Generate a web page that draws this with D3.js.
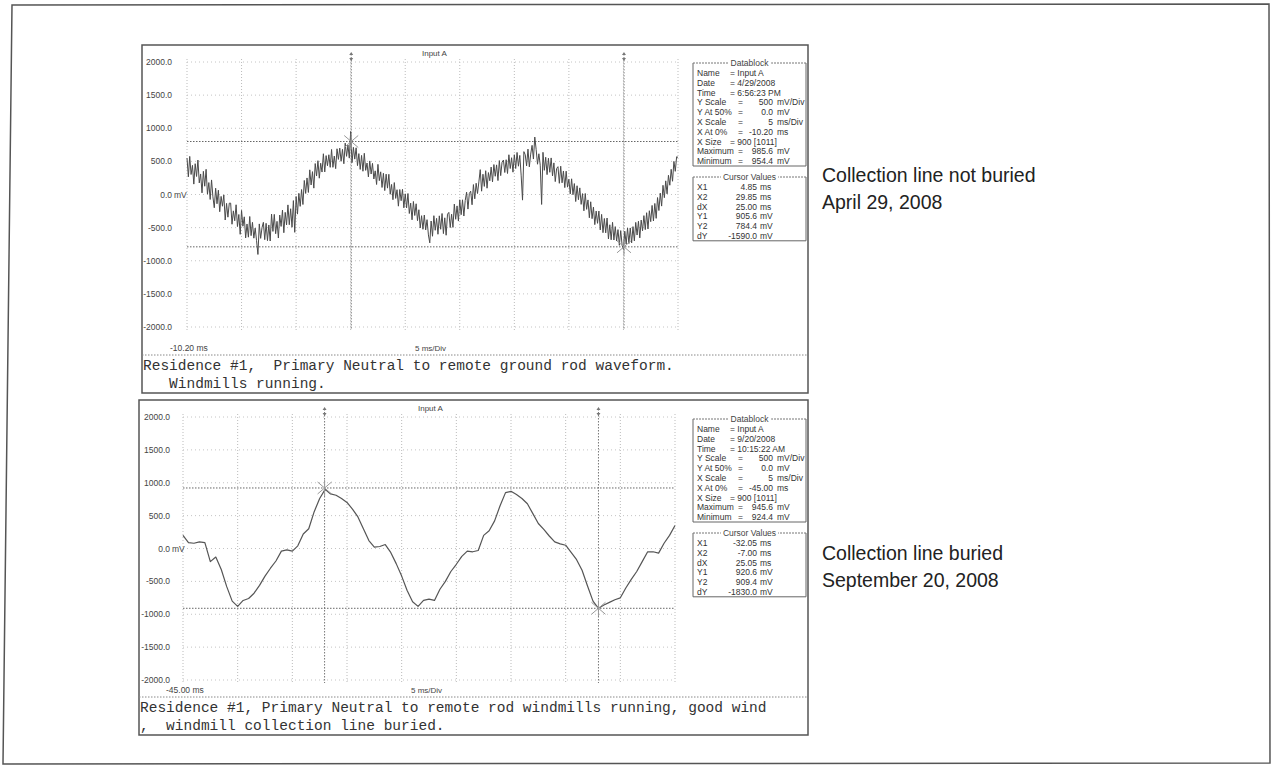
<!DOCTYPE html>
<html>
<head>
<meta charset="utf-8">
<script src="https://cdn.jsdelivr.net/npm/d3@7"></script>
<style>
  body { margin: 0; background: #fff; }
  svg { display: block; font-family: "Liberation Sans", Arial, sans-serif; }
  .mono { font-family: "Liberation Mono", "Courier New", monospace; }
</style>
</head>
<body>
<svg id="chart" width="1274" height="780"></svg>
<script>
const yTicks = [2000, 1500, 1000, 500, 0, -500, -1000, -1500, -2000];
const yTickLabels = ["2000.0", "1500.0", "1000.0", "500.0", "0.0", "-500.0", "-1000.0", "-1500.0", "-2000.0"];

// top capture: 4/29/2008, one value every 0.125 ms from -10.20 ms (mV)
const topStart = -10.2;
const topStep = 0.125;
const topValues = [
  550, 267, 575, 302, 440, 157, 465, 272,
  520, 175, 310, 25, 350, 125, 380, 5,
  180, -75, 220, -35, -200, 95, -140, 65,
  -260, -29, -177, -6, -385, -134, -342, -131,
  -130, -449, -247, -396, -155, -484, -302, -601,
  -240, -479, -337, -656, -445, -644, -332, -621,
  -420, -659, -507, -696, -905, -444, -662, -501,
  -420, -682, -435, -697, -460, -702, -295, -557,
  -300, -592, -405, -657, -310, -482, -235, -577,
  -270, -459, -157, -456, -215, -494, -92, -571,
  -30, -296, 18, -179, 75, -151, 212, 16,
  250, 31, 372, 144, 345, 96, 467, 279,
  510, 246, 472, 339, 615, 341, 587, 434,
  600, 410, 680, 410, 580, 390, 690, 530,
  700, 501, 682, 464, 775, 576, 747, 549,
  950, 481, 712, 534, 705, 436, 617, 379,
  590, 351, 622, 364, 475, 266, 507, 309,
  470, 234, 357, 151, 455, 209, 342, 106,
  320, 59, 307, 96, 305, 4, 152, -79,
  180, -59, 72, -176, 75, -94, 78, -201,
  10, -202, 15, -287, -130, -382, -105, -317,
  -140, -395, -230, -505, -320, -525, -310, -535,
  -380, -610, -730, -400, -630, -320, -540, -360,
  -600, -322, -525, -287, -590, -352, -615, -297,
  -270, -499, -297, -496, -145, -374, -172, -401,
  -80, -305, -80, -325, -90, 35, -220, 15,
  50, -155, 150, -65, 170, 15, 190, 375,
  50, 306, 122, 359, 95, 331, 207, 414,
  190, 452, 275, 447, 210, 512, 285, 487,
  520, 332, 525, 317, 600, 392, 555, 337,
  600, 392, 635, 427, 590, 292, -85, 647,
  600, 432, 685, 417, 610, 742, 535, 867,
  680, 457, 615, 442, -150, 637, 365, 562,
  300, 547, 335, 552, 280, 477, 195, 392,
  420, 169, 427, 176, 355, 104, 352, 111,
  230, 9, 237, -4, 165, -106, 132, -79,
  100, -149, 13, -246, 15, -224, -82, -351,
  -110, -365, -190, -455, -250, -435, -250, -535,
  -300, -576, -362, -579, -355, -671, -457, -684,
  -420, -687, -485, -702, -530, -767, -545, -762,
  -830, -555, -750, -505, -740, -505, -730, -485,
  -700, -421, -612, -404, -655, -386, -547, -319,
  -530, -275, -520, -245, -410, -165, -400, -135,
  -360, -46, -242, 21, -175, 139, -48, 206,
  10, 290, 140, 380, 200, 500, 350, 570,
  560
];
const topCursorX = [4.85, 29.85];
const topCursorY = [800, -790];

// bottom capture: 9/20/2008, one value every 0.5 ms from -45.00 ms (mV)
const botStart = -45;
const botStep = 0.5;
const botValues = [
  200, 90, 80, 100, 90, -200, -130, -320, -580, -800,
  -880, -790, -760, -680, -560, -420, -300, -190, -40, -20,
  -40, 40, 220, 300, 560, 760, 900, 830, 810, 760,
  700, 600, 480, 300, 120, 20, 30, 60, -60, -230,
  -420, -640, -810, -880, -790, -770, -790, -620, -500, -350,
  -240, -120, -40, -50, -30, 200, 270, 420, 650, 850,
  870, 820, 760, 680, 530, 380, 290, 190, 100, 70,
  50, -60, -170, -330, -570, -800, -910, -860, -820, -780,
  -750, -600, -470, -350, -200, -50, -50, -70, 80, 200,
  350
];
const botCursorX = [-32.05, -7.00];
const botCursorY = [920.6, -909.4];

const topDatablock = [
  ["Name", "= Input A", ""], ["Date", "= 4/29/2008", ""], ["Time", "= 6:56:23 PM", ""],
  ["Y Scale", "500", "mV/Div"], ["Y At 50%", "0.0", "mV"], ["X Scale", "5", "ms/Div"],
  ["X At 0%", "-10.20", "ms"], ["X Size", "= 900 [1011]", ""], ["Maximum", "985.6", "mV"],
  ["Minimum", "954.4", "mV"]
];
const topCursorRows = [
  ["X1", "4.85", "ms"], ["X2", "29.85", "ms"], ["dX", "25.00", "ms"],
  ["Y1", "905.6", "mV"], ["Y2", "784.4", "mV"], ["dY", "-1590.0", "mV"]
];
const botDatablock = [
  ["Name", "= Input A", ""], ["Date", "= 9/20/2008", ""], ["Time", "= 10:15:22 AM", ""],
  ["Y Scale", "500", "mV/Div"], ["Y At 50%", "0.0", "mV"], ["X Scale", "5", "ms/Div"],
  ["X At 0%", "-45.00", "ms"], ["X Size", "= 900 [1011]", ""], ["Maximum", "945.6", "mV"],
  ["Minimum", "924.4", "mV"]
];
const botCursorRows = [
  ["X1", "-32.05", "ms"], ["X2", "-7.00", "ms"], ["dX", "25.05", "ms"],
  ["Y1", "920.6", "mV"], ["Y2", "909.4", "mV"], ["dY", "-1830.0", "mV"]
];

const topCaption = ["Residence #1,  Primary Neutral to remote ground rod waveform.", "   Windmills running."];
const botCaption = ["Residence #1, Primary Neutral to remote rod windmills running, good wind", ",  windmill collection line buried."];
const sideNotes = [["Collection line not buried", "April 29, 2008"], ["Collection line buried", "September 20, 2008"]];

// ---- drawing ----
const svg = d3.select("#chart");

// scanned page frame
svg.append("path")
  .attr("d", "M12,5 L1269,4 L1270,763 L3,764 Z")
  .attr("fill", "none").attr("stroke", "#555").attr("stroke-width", 1.5);

function drawDatablock(g, x0, x1, top, rows, cursorRows) {
  const rowH = 9.8;
  const bottom = top + 5 + rows.length * rowH;
  const cTop = bottom + 11;
  const cBottom = cTop + 5 + cursorRows.length * rowH;
  [[top, bottom, "Datablock"], [cTop, cBottom, "Cursor Values"]].forEach(([t, b, title]) => {
    g.append("path")
      .attr("d", `M${x0},${t} L${x0},${b} L${x1},${b} L${x1},${t}`)
      .attr("fill", "none").attr("stroke", "#666").attr("stroke-width", 1);
    g.append("line")
      .attr("x1", x0).attr("x2", x1).attr("y1", t).attr("y2", t)
      .attr("stroke", "#777").attr("stroke-dasharray", "2,1");
    const label = g.append("text")
      .attr("x", (x0 + x1) / 2).attr("y", t + 3)
      .attr("text-anchor", "middle").attr("font-size", 8.5).attr("fill", "#444")
      .text(title);
    const bb = label.node().getBBox();
    g.insert("rect", "text:last-of-type")
      .attr("x", bb.x - 2).attr("y", bb.y).attr("width", bb.width + 4).attr("height", bb.height)
      .attr("fill", "#fff");
  });
  const txt = (xx, yy, s, anchor) => g.append("text")
    .attr("x", xx).attr("y", yy).attr("text-anchor", anchor || "start")
    .attr("font-size", 8.5).attr("fill", "#333").text(s);
  rows.forEach((r, i) => {
    const yy = top + 10 + i * rowH + 3;
    txt(x0 + 4, yy, r[0]);
    if (r[1].startsWith("=")) {
      txt(x0 + 37, yy, r[1]);
    } else {
      txt(x0 + 45, yy, "=");
      txt(x0 + 80, yy, r[1], "end");
      txt(x0 + 84, yy, r[2]);
    }
  });
  cursorRows.forEach((r, i) => {
    const yy = cTop + 10 + i * rowH + 3;
    txt(x0 + 4, yy, r[0]);
    txt(x0 + 64, yy, r[1], "end");
    txt(x0 + 67, yy, r[2]);
  });
}

function drawPanel(p) {
  const g = svg.append("g");
  const x = d3.scaleLinear().domain(p.xDomain).range([p.plot.l, p.plot.r]);
  const y = d3.scaleLinear().domain([-2000, 2000]).range([p.plot.b, p.plot.t]);

  g.append("rect")
    .attr("x", p.box[0]).attr("y", p.box[1])
    .attr("width", p.box[2] - p.box[0]).attr("height", p.box[3] - p.box[1])
    .attr("fill", "#fff").attr("stroke", "#555").attr("stroke-width", 1.5);

  // grid: 9 time divisions, 8 voltage divisions
  const xDivs = d3.range(p.xDomain[0], p.xDomain[1] + 0.01, 5);
  g.selectAll(".vgrid").data(xDivs).join("line")
    .attr("x1", d => x(d)).attr("x2", d => x(d))
    .attr("y1", y(2000) - 3).attr("y2", y(-2000) + 3)
    .attr("stroke", "#bbb").attr("stroke-dasharray", "1,2");
  g.selectAll(".hgrid").data(yTicks).join("line")
    .attr("x1", p.plot.l).attr("x2", p.plot.r)
    .attr("y1", d => y(d)).attr("y2", d => y(d))
    .attr("stroke", "#c4c4c4").attr("stroke-dasharray", "1,3");

  // y labels
  g.selectAll(".ylab").data(yTicks).join("text")
    .attr("x", p.plot.l - p.labelGap).attr("y", d => y(d) + 3)
    .attr("text-anchor", "end").attr("font-size", 8.5).attr("fill", "#444")
    .text((d, i) => yTickLabels[i]);
  g.append("text").attr("x", p.plot.l - p.labelGap + 2).attr("y", y(0) + 3)
    .attr("font-size", 8.5).attr("fill", "#444").text("mV");

  g.append("text").attr("x", p.plot.l + 235).attr("y", p.plot.t - 6)
    .attr("font-size", 8).attr("fill", "#444").text("Input A");
  g.append("text").attr("x", p.plot.l - 17).attr("y", p.plot.b + p.xLabelGap)
    .attr("font-size", 8.5).attr("fill", "#444").text(p.startLabel);
  g.append("text").attr("x", p.plot.l + 228).attr("y", p.plot.b + p.xLabelGap)
    .attr("font-size", 8).attr("fill", "#444").text("5 ms/Div");

  // cursors
  g.selectAll(".cx").data(p.cursorX).join("line")
    .attr("x1", d => x(d)).attr("x2", d => x(d))
    .attr("y1", y(2000) - 8).attr("y2", y(-2000) + 3)
    .attr("stroke", "#777").attr("stroke-dasharray", "1.5,1.5");
  g.selectAll(".cxm").data(p.cursorX).join("path")
    .attr("d", d => `M${x(d)},${y(2000) - 10} l-2,3 l4,0 z M${x(d)},${y(2000) - 1} l-2,-3 l4,0 z`)
    .attr("fill", "#777");
  g.selectAll(".cy").data(p.cursorY).join("line")
    .attr("x1", p.plot.l).attr("x2", p.plot.r)
    .attr("y1", d => y(d)).attr("y2", d => y(d))
    .attr("stroke", "#666").attr("stroke-dasharray", "1.5,1.5");

  // waveform
  const line = d3.line()
    .x((d, i) => x(p.start + i * p.step))
    .y(d => y(d));
  g.append("path").datum(p.values)
    .attr("d", line)
    .attr("fill", "none").attr("stroke", p.traceColor).attr("stroke-width", p.traceWidth)
    .attr("stroke-linejoin", "round");

  // cursor stars
  p.cursorX.forEach((cx, i) => {
    const px = x(cx), py = y(p.cursorY[i]);
    g.append("path")
      .attr("d", `M${px - 7},${py - 6} L${px + 7},${py + 6} M${px - 7},${py + 6} L${px + 7},${py - 6} M${px},${py - 8} L${px},${py + 8}`)
      .attr("stroke", "#999").attr("stroke-width", 1).attr("fill", "none");
  });

  drawDatablock(g, 693, 806, p.dbTop, p.datablock, p.cursorRows);

  // caption strip
  g.append("line")
    .attr("x1", p.box[0]).attr("x2", p.box[2]).attr("y1", p.sepY).attr("y2", p.sepY)
    .attr("stroke", "#888").attr("stroke-dasharray", "1.5,1.5");
  p.caption.forEach((c, i) => {
    g.append("text").attr("class", "mono")
      .attr("x", p.box[0] + 1).attr("y", p.sepY + 15 + i * 18)
      .attr("font-size", 14.5).attr("fill", "#333")
      .attr("xml:space", "preserve").style("white-space", "pre")
      .text(c);
  });

  // side note
  p.note.forEach((t, i) => {
    svg.append("text").attr("x", 822).attr("y", p.noteY + i * 27)
      .attr("font-size", 19.5).attr("fill", "#222").text(t);
  });
}

drawPanel({
  box: [142, 45, 808, 393],
  plot: { l: 187, r: 678, t: 62, b: 327 },
  labelGap: 15, xLabelGap: 24,
  xDomain: [-10.2, 34.8],
  start: topStart, step: topStep, values: topValues,
  cursorX: topCursorX, cursorY: topCursorY,
  traceColor: "#4a4a4a", traceWidth: 1,
  startLabel: "-10.20 ms",
  dbTop: 63, datablock: topDatablock, cursorRows: topCursorRows,
  sepY: 355, caption: topCaption,
  note: sideNotes[0], noteY: 182
});

drawPanel({
  box: [139, 400, 808, 735],
  plot: { l: 183, r: 675, t: 417, b: 680 },
  labelGap: 13, xLabelGap: 13,
  xDomain: [-45, 0],
  start: botStart, step: botStep, values: botValues,
  cursorX: botCursorX, cursorY: botCursorY,
  traceColor: "#555", traceWidth: 1.2,
  startLabel: "-45.00 ms",
  dbTop: 419, datablock: botDatablock, cursorRows: botCursorRows,
  sepY: 697, caption: botCaption,
  note: sideNotes[1], noteY: 560
});
</script>
</body>
</html>
